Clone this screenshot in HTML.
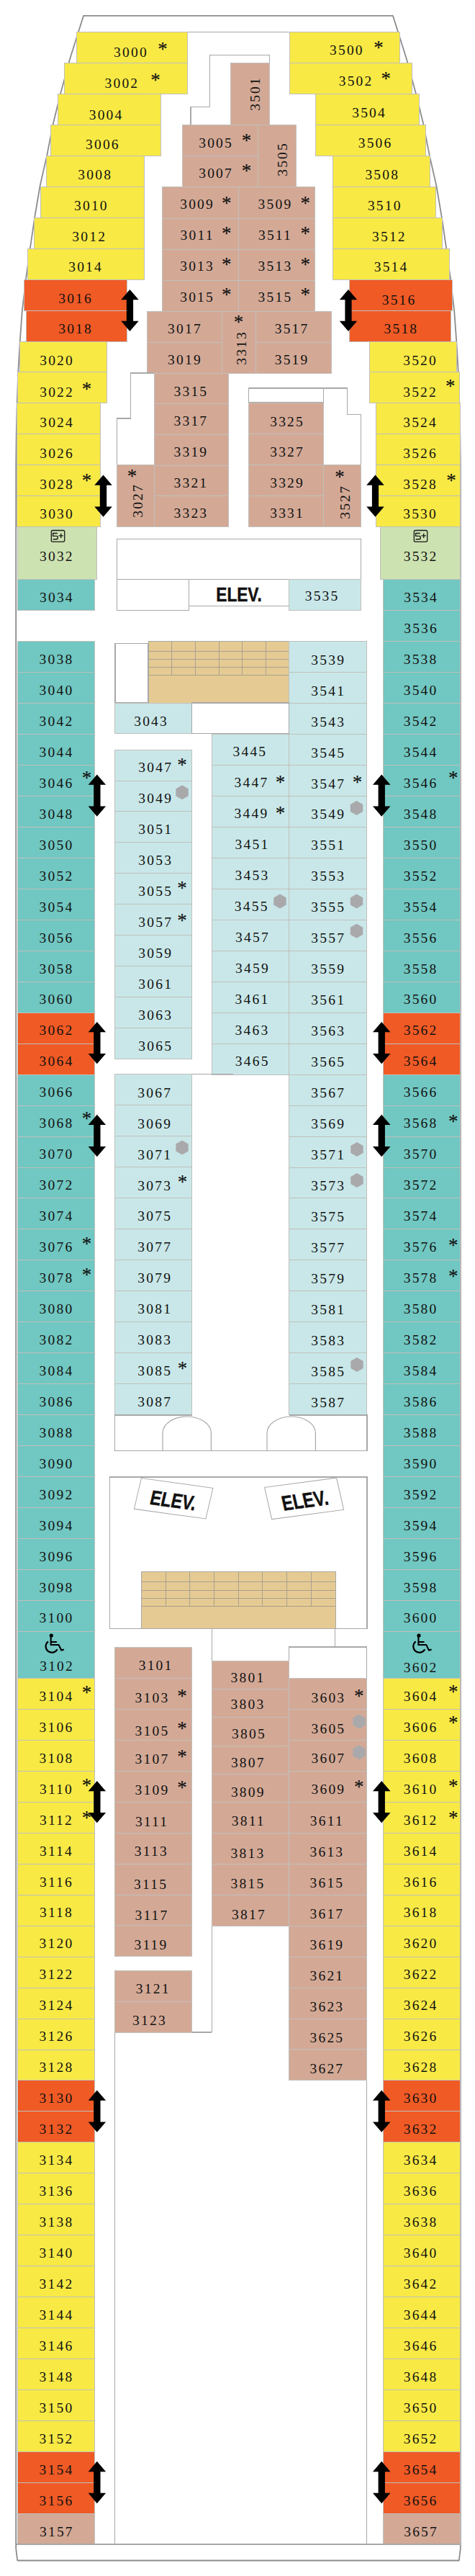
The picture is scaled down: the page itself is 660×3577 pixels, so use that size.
<!DOCTYPE html>
<html><head><meta charset="utf-8"><style>
html,body{margin:0;padding:0;background:#fff;width:660px;height:3577px;overflow:hidden}
#w{position:relative;width:660px;height:3577px}
svg{position:absolute;left:0;top:0}
.l{position:absolute;height:20px;line-height:20px;text-align:center;font-family:"Liberation Serif",serif;font-size:19.5px;letter-spacing:2.2px;text-indent:2.2px;white-space:nowrap;color:#111}
.s{position:absolute;width:40px;height:26px;line-height:26px;text-align:center;font-family:"Liberation Serif",serif;font-size:27px;color:#111;-webkit-text-stroke:0.15px #111}
.ev{position:absolute;height:30px;line-height:30px;text-align:center;font-family:"Liberation Sans",sans-serif;font-size:27px;font-weight:bold;color:#111;transform:scaleX(0.84);-webkit-text-stroke:0.5px #111}
.evb{position:absolute;line-height:49px;text-align:center;font-family:"Liberation Sans",sans-serif;font-size:28.5px;font-weight:bold;color:#111;background:#fff;border:1.2px solid #a8a8a8;box-sizing:border-box}
.evb span{display:inline-block;transform:scaleX(0.8);-webkit-text-stroke:0.5px #111}
</style></head><body><div id="w">
<svg width="660" height="3577" viewBox="0 0 660 3577">
<polygon points="116,21.9 97.7,80 84,130.2 73.6,172.8 65.1,216.4 55.6,258 48.1,302.4 41.8,345.4 35.9,388.3 30.8,431.9 27.7,474.8 25.2,517.8 23.7,560.7 22.7,603.5 22.2,646.4 22.2,3539 24.2,3555.5 637.8,3555.5 639.8,3539 639.8,646.4 639.3,603.5 638.3,560.7 636.8,517.8 634.3,474.8 631.2,431.9 626.1,388.3 620.2,345.4 613.9,302.4 606.4,258 596.9,216.4 588.4,172.8 578,130.2 564.3,80 546,21.9" fill="none" stroke="#8c8c8c" stroke-width="1.8" stroke-linejoin="round"/>
<rect shape-rendering="crispEdges" x="106.8" y="44.9" width="153.7" height="42.9" fill="#f8e945" stroke="rgb(192,192,188)" stroke-width="1"/>
<rect shape-rendering="crispEdges" x="89.4" y="87.8" width="171.1" height="42.9" fill="#f8e945" stroke="rgb(192,192,188)" stroke-width="1"/>
<rect shape-rendering="crispEdges" x="80.3" y="130.7" width="143.1" height="42.9" fill="#f8e945" stroke="rgb(192,192,188)" stroke-width="1"/>
<rect shape-rendering="crispEdges" x="70.3" y="173.6" width="153.1" height="42.9" fill="#f8e945" stroke="rgb(192,192,188)" stroke-width="1"/>
<rect shape-rendering="crispEdges" x="64.6" y="216.5" width="135.5" height="42.9" fill="#f8e945" stroke="rgb(192,192,188)" stroke-width="1"/>
<rect shape-rendering="crispEdges" x="56.3" y="259.4" width="143.8" height="42.9" fill="#f8e945" stroke="rgb(192,192,188)" stroke-width="1"/>
<rect shape-rendering="crispEdges" x="47.6" y="302.4" width="152.5" height="42.9" fill="#f8e945" stroke="rgb(192,192,188)" stroke-width="1"/>
<rect shape-rendering="crispEdges" x="38.4" y="345.3" width="161.7" height="42.9" fill="#f8e945" stroke="rgb(192,192,188)" stroke-width="1"/>
<rect shape-rendering="crispEdges" x="33.9" y="388.2" width="142.7" height="42.9" fill="#f05a25" stroke="rgb(192,192,188)" stroke-width="1"/>
<rect shape-rendering="crispEdges" x="36.0" y="431.1" width="140.6" height="42.9" fill="#f05a25" stroke="rgb(192,192,188)" stroke-width="1"/>
<rect shape-rendering="crispEdges" x="27.3" y="474.0" width="121.5" height="42.9" fill="#f8e945" stroke="rgb(192,192,188)" stroke-width="1"/>
<rect shape-rendering="crispEdges" x="24.2" y="516.9" width="124.6" height="42.9" fill="#f8e945" stroke="rgb(192,192,188)" stroke-width="1"/>
<rect shape-rendering="crispEdges" x="23.6" y="559.8" width="115.6" height="42.9" fill="#f8e945" stroke="rgb(192,192,188)" stroke-width="1"/>
<rect shape-rendering="crispEdges" x="23.6" y="602.7" width="115.6" height="42.9" fill="#f8e945" stroke="rgb(192,192,188)" stroke-width="1"/>
<rect shape-rendering="crispEdges" x="23.6" y="645.6" width="115.6" height="42.9" fill="#f8e945" stroke="rgb(192,192,188)" stroke-width="1"/>
<rect shape-rendering="crispEdges" x="23.6" y="688.5" width="115.6" height="42.9" fill="#f8e945" stroke="rgb(192,192,188)" stroke-width="1"/>
<rect shape-rendering="crispEdges" x="402.0" y="44.9" width="153.0" height="42.9" fill="#f8e945" stroke="rgb(192,192,188)" stroke-width="1"/>
<rect shape-rendering="crispEdges" x="402.0" y="87.8" width="170.8" height="42.9" fill="#f8e945" stroke="rgb(192,192,188)" stroke-width="1"/>
<rect shape-rendering="crispEdges" x="438.0" y="130.7" width="144.0" height="42.9" fill="#f8e945" stroke="rgb(192,192,188)" stroke-width="1"/>
<rect shape-rendering="crispEdges" x="438.0" y="173.6" width="153.0" height="42.9" fill="#f8e945" stroke="rgb(192,192,188)" stroke-width="1"/>
<rect shape-rendering="crispEdges" x="462.4" y="216.5" width="135.0" height="42.9" fill="#f8e945" stroke="rgb(192,192,188)" stroke-width="1"/>
<rect shape-rendering="crispEdges" x="462.4" y="259.4" width="143.0" height="42.9" fill="#f8e945" stroke="rgb(192,192,188)" stroke-width="1"/>
<rect shape-rendering="crispEdges" x="462.4" y="302.4" width="152.1" height="42.9" fill="#f8e945" stroke="rgb(192,192,188)" stroke-width="1"/>
<rect shape-rendering="crispEdges" x="462.4" y="345.3" width="162.2" height="42.9" fill="#f8e945" stroke="rgb(192,192,188)" stroke-width="1"/>
<rect shape-rendering="crispEdges" x="485.7" y="388.2" width="142.5" height="42.9" fill="#f05a25" stroke="rgb(192,192,188)" stroke-width="1"/>
<rect shape-rendering="crispEdges" x="485.7" y="431.1" width="140.3" height="42.9" fill="#f05a25" stroke="rgb(192,192,188)" stroke-width="1"/>
<rect shape-rendering="crispEdges" x="513.0" y="474.0" width="121.5" height="42.9" fill="#f8e945" stroke="rgb(192,192,188)" stroke-width="1"/>
<rect shape-rendering="crispEdges" x="513.0" y="516.9" width="125.0" height="42.9" fill="#f8e945" stroke="rgb(192,192,188)" stroke-width="1"/>
<rect shape-rendering="crispEdges" x="522.4" y="559.8" width="117.0" height="42.9" fill="#f8e945" stroke="rgb(192,192,188)" stroke-width="1"/>
<rect shape-rendering="crispEdges" x="522.4" y="602.7" width="117.0" height="42.9" fill="#f8e945" stroke="rgb(192,192,188)" stroke-width="1"/>
<rect shape-rendering="crispEdges" x="522.4" y="645.6" width="117.0" height="42.9" fill="#f8e945" stroke="rgb(192,192,188)" stroke-width="1"/>
<rect shape-rendering="crispEdges" x="522.4" y="688.5" width="117.0" height="42.9" fill="#f8e945" stroke="rgb(192,192,188)" stroke-width="1"/>
<polygon points="180.4,401.9 192.7,416.2 185.1,416.2 185.1,445.8 192.7,445.8 180.4,460.1 168.2,445.8 175.8,445.8 175.8,416.2 168.2,416.2" fill="#000"/>
<polygon points="143.5,659.5 155.8,673.8 148.2,673.8 148.2,703.5 155.8,703.5 143.5,717.8 131.2,703.5 138.8,703.5 138.8,673.8 131.2,673.8" fill="#000"/>
<polygon points="484.0,401.9 496.2,416.2 488.6,416.2 488.6,445.8 496.2,445.8 484.0,460.1 471.8,445.8 479.4,445.8 479.4,416.2 471.8,416.2" fill="#000"/>
<polygon points="521.5,659.5 533.8,673.8 526.1,673.8 526.1,703.5 533.8,703.5 521.5,717.8 509.2,703.5 516.9,703.5 516.9,673.8 509.2,673.8" fill="#000"/>
<rect shape-rendering="crispEdges" x="24.0" y="731.3" width="110.8" height="72.8" fill="#cde2b1" stroke="rgb(192,192,188)" stroke-width="1"/>
<rect shape-rendering="crispEdges" x="528.2" y="731.3" width="111.2" height="72.8" fill="#cde2b1" stroke="rgb(192,192,188)" stroke-width="1"/>
<rect x="71.3" y="736.5" width="18.4" height="15.8" rx="2" fill="none" stroke="#1a1a1a" stroke-width="1.3"/>
<path d="M79.8,740.5 H73.6 V744.4 H78.4 Q80.2,744.4 80.2,746.2 V747.0 Q80.2,748.8 78.4,748.8 H73.6" fill="none" stroke="#1a1a1a" stroke-width="1.4"/>
<path d="M81.5,743.9 H87.9 M84.7,740.8 V747.1" fill="none" stroke="#1a1a1a" stroke-width="1.4"/>
<rect x="575.3" y="736.5" width="18.4" height="15.8" rx="2" fill="none" stroke="#1a1a1a" stroke-width="1.3"/>
<path d="M583.8,740.5 H577.6 V744.4 H582.4 Q584.2,744.4 584.2,746.2 V747.0 Q584.2,748.8 582.4,748.8 H577.6" fill="none" stroke="#1a1a1a" stroke-width="1.4"/>
<path d="M585.5,743.9 H591.9 M588.7,740.8 V747.1" fill="none" stroke="#1a1a1a" stroke-width="1.4"/>
<rect shape-rendering="crispEdges" x="24.0" y="804.1" width="107.4" height="43.3" fill="#71c7c1" stroke="rgb(192,192,188)" stroke-width="1"/>
<rect shape-rendering="crispEdges" x="24.0" y="890.8" width="107.4" height="43.0" fill="#71c7c1" stroke="rgb(192,192,188)" stroke-width="1"/>
<rect shape-rendering="crispEdges" x="24.0" y="933.8" width="107.4" height="42.9" fill="#71c7c1" stroke="rgb(192,192,188)" stroke-width="1"/>
<rect shape-rendering="crispEdges" x="24.0" y="976.7" width="107.4" height="43.0" fill="#71c7c1" stroke="rgb(192,192,188)" stroke-width="1"/>
<rect shape-rendering="crispEdges" x="24.0" y="1019.6" width="107.4" height="42.9" fill="#71c7c1" stroke="rgb(192,192,188)" stroke-width="1"/>
<rect shape-rendering="crispEdges" x="24.0" y="1062.6" width="107.4" height="43.0" fill="#71c7c1" stroke="rgb(192,192,188)" stroke-width="1"/>
<rect shape-rendering="crispEdges" x="24.0" y="1105.5" width="107.4" height="43.0" fill="#71c7c1" stroke="rgb(192,192,188)" stroke-width="1"/>
<rect shape-rendering="crispEdges" x="24.0" y="1148.5" width="107.4" height="43.0" fill="#71c7c1" stroke="rgb(192,192,188)" stroke-width="1"/>
<rect shape-rendering="crispEdges" x="24.0" y="1191.5" width="107.4" height="43.0" fill="#71c7c1" stroke="rgb(192,192,188)" stroke-width="1"/>
<rect shape-rendering="crispEdges" x="24.0" y="1234.4" width="107.4" height="42.9" fill="#71c7c1" stroke="rgb(192,192,188)" stroke-width="1"/>
<rect shape-rendering="crispEdges" x="24.0" y="1277.3" width="107.4" height="43.0" fill="#71c7c1" stroke="rgb(192,192,188)" stroke-width="1"/>
<rect shape-rendering="crispEdges" x="24.0" y="1320.3" width="107.4" height="43.0" fill="#71c7c1" stroke="rgb(192,192,188)" stroke-width="1"/>
<rect shape-rendering="crispEdges" x="24.0" y="1363.2" width="107.4" height="43.0" fill="#71c7c1" stroke="rgb(192,192,188)" stroke-width="1"/>
<rect shape-rendering="crispEdges" x="24.0" y="1406.2" width="107.4" height="43.0" fill="#f05a25" stroke="rgb(192,192,188)" stroke-width="1"/>
<rect shape-rendering="crispEdges" x="24.0" y="1449.2" width="107.4" height="42.9" fill="#f05a25" stroke="rgb(192,192,188)" stroke-width="1"/>
<rect shape-rendering="crispEdges" x="24.0" y="1492.1" width="107.4" height="43.0" fill="#71c7c1" stroke="rgb(192,192,188)" stroke-width="1"/>
<rect shape-rendering="crispEdges" x="24.0" y="1535.0" width="107.4" height="43.0" fill="#71c7c1" stroke="rgb(192,192,188)" stroke-width="1"/>
<rect shape-rendering="crispEdges" x="24.0" y="1578.0" width="107.4" height="43.0" fill="#71c7c1" stroke="rgb(192,192,188)" stroke-width="1"/>
<rect shape-rendering="crispEdges" x="24.0" y="1621.0" width="107.4" height="43.0" fill="#71c7c1" stroke="rgb(192,192,188)" stroke-width="1"/>
<rect shape-rendering="crispEdges" x="24.0" y="1663.9" width="107.4" height="42.9" fill="#71c7c1" stroke="rgb(192,192,188)" stroke-width="1"/>
<rect shape-rendering="crispEdges" x="24.0" y="1706.8" width="107.4" height="43.0" fill="#71c7c1" stroke="rgb(192,192,188)" stroke-width="1"/>
<rect shape-rendering="crispEdges" x="24.0" y="1749.8" width="107.4" height="43.0" fill="#71c7c1" stroke="rgb(192,192,188)" stroke-width="1"/>
<rect shape-rendering="crispEdges" x="24.0" y="1792.8" width="107.4" height="43.0" fill="#71c7c1" stroke="rgb(192,192,188)" stroke-width="1"/>
<rect shape-rendering="crispEdges" x="24.0" y="1835.7" width="107.4" height="43.0" fill="#71c7c1" stroke="rgb(192,192,188)" stroke-width="1"/>
<rect shape-rendering="crispEdges" x="24.0" y="1878.7" width="107.4" height="43.0" fill="#71c7c1" stroke="rgb(192,192,188)" stroke-width="1"/>
<rect shape-rendering="crispEdges" x="24.0" y="1921.6" width="107.4" height="42.9" fill="#71c7c1" stroke="rgb(192,192,188)" stroke-width="1"/>
<rect shape-rendering="crispEdges" x="24.0" y="1964.5" width="107.4" height="43.0" fill="#71c7c1" stroke="rgb(192,192,188)" stroke-width="1"/>
<rect shape-rendering="crispEdges" x="24.0" y="2007.5" width="107.4" height="42.9" fill="#71c7c1" stroke="rgb(192,192,188)" stroke-width="1"/>
<rect shape-rendering="crispEdges" x="24.0" y="2050.4" width="107.4" height="43.0" fill="#71c7c1" stroke="rgb(192,192,188)" stroke-width="1"/>
<rect shape-rendering="crispEdges" x="24.0" y="2093.4" width="107.4" height="43.0" fill="#71c7c1" stroke="rgb(192,192,188)" stroke-width="1"/>
<rect shape-rendering="crispEdges" x="24.0" y="2136.4" width="107.4" height="42.9" fill="#71c7c1" stroke="rgb(192,192,188)" stroke-width="1"/>
<rect shape-rendering="crispEdges" x="24.0" y="2179.3" width="107.4" height="42.9" fill="#71c7c1" stroke="rgb(192,192,188)" stroke-width="1"/>
<rect shape-rendering="crispEdges" x="24.0" y="2222.2" width="107.4" height="42.9" fill="#71c7c1" stroke="rgb(192,192,188)" stroke-width="1"/>
<rect shape-rendering="crispEdges" x="24.0" y="2265.2" width="107.4" height="64.8" fill="#71c7c1" stroke="rgb(192,192,188)" stroke-width="1"/>
<circle cx="71.3" cy="2271.0" r="2.6" fill="#000"/>
<path d="M70.7,2271 V2284.0 H81.5 L85.3,2291.5 L88.9,2290.5 M70.7,2280.0 H78.9" fill="none" stroke="#000" stroke-width="2.1"/>
<path d="M67.0,2279.4 A8.5,8.5 0 1 0 79.6,2290.2" fill="none" stroke="#000" stroke-width="2.2"/>
<rect shape-rendering="crispEdges" x="532.0" y="804.1" width="107.6" height="43.3" fill="#71c7c1" stroke="rgb(192,192,188)" stroke-width="1"/>
<rect shape-rendering="crispEdges" x="532.0" y="847.4" width="107.6" height="42.6" fill="#71c7c1" stroke="rgb(192,192,188)" stroke-width="1"/>
<rect shape-rendering="crispEdges" x="532.0" y="890.8" width="107.6" height="43.0" fill="#71c7c1" stroke="rgb(192,192,188)" stroke-width="1"/>
<rect shape-rendering="crispEdges" x="532.0" y="933.8" width="107.6" height="42.9" fill="#71c7c1" stroke="rgb(192,192,188)" stroke-width="1"/>
<rect shape-rendering="crispEdges" x="532.0" y="976.7" width="107.6" height="43.0" fill="#71c7c1" stroke="rgb(192,192,188)" stroke-width="1"/>
<rect shape-rendering="crispEdges" x="532.0" y="1019.6" width="107.6" height="42.9" fill="#71c7c1" stroke="rgb(192,192,188)" stroke-width="1"/>
<rect shape-rendering="crispEdges" x="532.0" y="1062.6" width="107.6" height="43.0" fill="#71c7c1" stroke="rgb(192,192,188)" stroke-width="1"/>
<rect shape-rendering="crispEdges" x="532.0" y="1105.5" width="107.6" height="43.0" fill="#71c7c1" stroke="rgb(192,192,188)" stroke-width="1"/>
<rect shape-rendering="crispEdges" x="532.0" y="1148.5" width="107.6" height="43.0" fill="#71c7c1" stroke="rgb(192,192,188)" stroke-width="1"/>
<rect shape-rendering="crispEdges" x="532.0" y="1191.5" width="107.6" height="43.0" fill="#71c7c1" stroke="rgb(192,192,188)" stroke-width="1"/>
<rect shape-rendering="crispEdges" x="532.0" y="1234.4" width="107.6" height="42.9" fill="#71c7c1" stroke="rgb(192,192,188)" stroke-width="1"/>
<rect shape-rendering="crispEdges" x="532.0" y="1277.3" width="107.6" height="43.0" fill="#71c7c1" stroke="rgb(192,192,188)" stroke-width="1"/>
<rect shape-rendering="crispEdges" x="532.0" y="1320.3" width="107.6" height="43.0" fill="#71c7c1" stroke="rgb(192,192,188)" stroke-width="1"/>
<rect shape-rendering="crispEdges" x="532.0" y="1363.2" width="107.6" height="43.0" fill="#71c7c1" stroke="rgb(192,192,188)" stroke-width="1"/>
<rect shape-rendering="crispEdges" x="532.0" y="1406.2" width="107.6" height="43.0" fill="#f05a25" stroke="rgb(192,192,188)" stroke-width="1"/>
<rect shape-rendering="crispEdges" x="532.0" y="1449.2" width="107.6" height="42.9" fill="#f05a25" stroke="rgb(192,192,188)" stroke-width="1"/>
<rect shape-rendering="crispEdges" x="532.0" y="1492.1" width="107.6" height="43.0" fill="#71c7c1" stroke="rgb(192,192,188)" stroke-width="1"/>
<rect shape-rendering="crispEdges" x="532.0" y="1535.0" width="107.6" height="43.0" fill="#71c7c1" stroke="rgb(192,192,188)" stroke-width="1"/>
<rect shape-rendering="crispEdges" x="532.0" y="1578.0" width="107.6" height="43.0" fill="#71c7c1" stroke="rgb(192,192,188)" stroke-width="1"/>
<rect shape-rendering="crispEdges" x="532.0" y="1621.0" width="107.6" height="43.0" fill="#71c7c1" stroke="rgb(192,192,188)" stroke-width="1"/>
<rect shape-rendering="crispEdges" x="532.0" y="1663.9" width="107.6" height="42.9" fill="#71c7c1" stroke="rgb(192,192,188)" stroke-width="1"/>
<rect shape-rendering="crispEdges" x="532.0" y="1706.8" width="107.6" height="43.0" fill="#71c7c1" stroke="rgb(192,192,188)" stroke-width="1"/>
<rect shape-rendering="crispEdges" x="532.0" y="1749.8" width="107.6" height="43.0" fill="#71c7c1" stroke="rgb(192,192,188)" stroke-width="1"/>
<rect shape-rendering="crispEdges" x="532.0" y="1792.8" width="107.6" height="43.0" fill="#71c7c1" stroke="rgb(192,192,188)" stroke-width="1"/>
<rect shape-rendering="crispEdges" x="532.0" y="1835.7" width="107.6" height="43.0" fill="#71c7c1" stroke="rgb(192,192,188)" stroke-width="1"/>
<rect shape-rendering="crispEdges" x="532.0" y="1878.7" width="107.6" height="43.0" fill="#71c7c1" stroke="rgb(192,192,188)" stroke-width="1"/>
<rect shape-rendering="crispEdges" x="532.0" y="1921.6" width="107.6" height="42.9" fill="#71c7c1" stroke="rgb(192,192,188)" stroke-width="1"/>
<rect shape-rendering="crispEdges" x="532.0" y="1964.5" width="107.6" height="43.0" fill="#71c7c1" stroke="rgb(192,192,188)" stroke-width="1"/>
<rect shape-rendering="crispEdges" x="532.0" y="2007.5" width="107.6" height="42.9" fill="#71c7c1" stroke="rgb(192,192,188)" stroke-width="1"/>
<rect shape-rendering="crispEdges" x="532.0" y="2050.4" width="107.6" height="43.0" fill="#71c7c1" stroke="rgb(192,192,188)" stroke-width="1"/>
<rect shape-rendering="crispEdges" x="532.0" y="2093.4" width="107.6" height="43.0" fill="#71c7c1" stroke="rgb(192,192,188)" stroke-width="1"/>
<rect shape-rendering="crispEdges" x="532.0" y="2136.4" width="107.6" height="42.9" fill="#71c7c1" stroke="rgb(192,192,188)" stroke-width="1"/>
<rect shape-rendering="crispEdges" x="532.0" y="2179.3" width="107.6" height="42.9" fill="#71c7c1" stroke="rgb(192,192,188)" stroke-width="1"/>
<rect shape-rendering="crispEdges" x="532.0" y="2222.2" width="107.6" height="42.9" fill="#71c7c1" stroke="rgb(192,192,188)" stroke-width="1"/>
<rect shape-rendering="crispEdges" x="532.0" y="2265.2" width="107.6" height="64.8" fill="#71c7c1" stroke="rgb(192,192,188)" stroke-width="1"/>
<circle cx="582.0" cy="2271.0" r="2.6" fill="#000"/>
<path d="M581.4,2271 V2284.0 H592.2 L596.0,2291.5 L599.6,2290.5 M581.4,2280.0 H589.6" fill="none" stroke="#000" stroke-width="2.1"/>
<path d="M577.7,2279.4 A8.5,8.5 0 1 0 590.3,2290.2" fill="none" stroke="#000" stroke-width="2.2"/>
<rect shape-rendering="crispEdges" x="24.0" y="2330.6" width="107.4" height="42.9" fill="#f8e945" stroke="rgb(192,192,188)" stroke-width="1"/>
<rect shape-rendering="crispEdges" x="532.0" y="2330.6" width="107.6" height="42.9" fill="#f8e945" stroke="rgb(192,192,188)" stroke-width="1"/>
<rect shape-rendering="crispEdges" x="24.0" y="2373.5" width="107.4" height="43.0" fill="#f8e945" stroke="rgb(192,192,188)" stroke-width="1"/>
<rect shape-rendering="crispEdges" x="532.0" y="2373.5" width="107.6" height="43.0" fill="#f8e945" stroke="rgb(192,192,188)" stroke-width="1"/>
<rect shape-rendering="crispEdges" x="24.0" y="2416.5" width="107.4" height="42.9" fill="#f8e945" stroke="rgb(192,192,188)" stroke-width="1"/>
<rect shape-rendering="crispEdges" x="532.0" y="2416.5" width="107.6" height="42.9" fill="#f8e945" stroke="rgb(192,192,188)" stroke-width="1"/>
<rect shape-rendering="crispEdges" x="24.0" y="2459.4" width="107.4" height="43.0" fill="#f8e945" stroke="rgb(192,192,188)" stroke-width="1"/>
<rect shape-rendering="crispEdges" x="532.0" y="2459.4" width="107.6" height="43.0" fill="#f8e945" stroke="rgb(192,192,188)" stroke-width="1"/>
<rect shape-rendering="crispEdges" x="24.0" y="2502.4" width="107.4" height="42.9" fill="#f8e945" stroke="rgb(192,192,188)" stroke-width="1"/>
<rect shape-rendering="crispEdges" x="532.0" y="2502.4" width="107.6" height="42.9" fill="#f8e945" stroke="rgb(192,192,188)" stroke-width="1"/>
<rect shape-rendering="crispEdges" x="24.0" y="2545.3" width="107.4" height="43.0" fill="#f8e945" stroke="rgb(192,192,188)" stroke-width="1"/>
<rect shape-rendering="crispEdges" x="532.0" y="2545.3" width="107.6" height="43.0" fill="#f8e945" stroke="rgb(192,192,188)" stroke-width="1"/>
<rect shape-rendering="crispEdges" x="24.0" y="2588.3" width="107.4" height="42.9" fill="#f8e945" stroke="rgb(192,192,188)" stroke-width="1"/>
<rect shape-rendering="crispEdges" x="532.0" y="2588.3" width="107.6" height="42.9" fill="#f8e945" stroke="rgb(192,192,188)" stroke-width="1"/>
<rect shape-rendering="crispEdges" x="24.0" y="2631.2" width="107.4" height="42.9" fill="#f8e945" stroke="rgb(192,192,188)" stroke-width="1"/>
<rect shape-rendering="crispEdges" x="532.0" y="2631.2" width="107.6" height="42.9" fill="#f8e945" stroke="rgb(192,192,188)" stroke-width="1"/>
<rect shape-rendering="crispEdges" x="24.0" y="2674.2" width="107.4" height="43.0" fill="#f8e945" stroke="rgb(192,192,188)" stroke-width="1"/>
<rect shape-rendering="crispEdges" x="532.0" y="2674.2" width="107.6" height="43.0" fill="#f8e945" stroke="rgb(192,192,188)" stroke-width="1"/>
<rect shape-rendering="crispEdges" x="24.0" y="2717.2" width="107.4" height="42.9" fill="#f8e945" stroke="rgb(192,192,188)" stroke-width="1"/>
<rect shape-rendering="crispEdges" x="532.0" y="2717.2" width="107.6" height="42.9" fill="#f8e945" stroke="rgb(192,192,188)" stroke-width="1"/>
<rect shape-rendering="crispEdges" x="24.0" y="2760.1" width="107.4" height="43.0" fill="#f8e945" stroke="rgb(192,192,188)" stroke-width="1"/>
<rect shape-rendering="crispEdges" x="532.0" y="2760.1" width="107.6" height="43.0" fill="#f8e945" stroke="rgb(192,192,188)" stroke-width="1"/>
<rect shape-rendering="crispEdges" x="24.0" y="2803.1" width="107.4" height="42.9" fill="#f8e945" stroke="rgb(192,192,188)" stroke-width="1"/>
<rect shape-rendering="crispEdges" x="532.0" y="2803.1" width="107.6" height="42.9" fill="#f8e945" stroke="rgb(192,192,188)" stroke-width="1"/>
<rect shape-rendering="crispEdges" x="24.0" y="2846.0" width="107.4" height="42.9" fill="#f8e945" stroke="rgb(192,192,188)" stroke-width="1"/>
<rect shape-rendering="crispEdges" x="532.0" y="2846.0" width="107.6" height="42.9" fill="#f8e945" stroke="rgb(192,192,188)" stroke-width="1"/>
<rect shape-rendering="crispEdges" x="24.0" y="2888.9" width="107.4" height="43.0" fill="#f05a25" stroke="rgb(192,192,188)" stroke-width="1"/>
<rect shape-rendering="crispEdges" x="532.0" y="2888.9" width="107.6" height="43.0" fill="#f05a25" stroke="rgb(192,192,188)" stroke-width="1"/>
<rect shape-rendering="crispEdges" x="24.0" y="2931.9" width="107.4" height="42.9" fill="#f05a25" stroke="rgb(192,192,188)" stroke-width="1"/>
<rect shape-rendering="crispEdges" x="532.0" y="2931.9" width="107.6" height="42.9" fill="#f05a25" stroke="rgb(192,192,188)" stroke-width="1"/>
<rect shape-rendering="crispEdges" x="24.0" y="2974.8" width="107.4" height="43.0" fill="#f8e945" stroke="rgb(192,192,188)" stroke-width="1"/>
<rect shape-rendering="crispEdges" x="532.0" y="2974.8" width="107.6" height="43.0" fill="#f8e945" stroke="rgb(192,192,188)" stroke-width="1"/>
<rect shape-rendering="crispEdges" x="24.0" y="3017.8" width="107.4" height="42.9" fill="#f8e945" stroke="rgb(192,192,188)" stroke-width="1"/>
<rect shape-rendering="crispEdges" x="532.0" y="3017.8" width="107.6" height="42.9" fill="#f8e945" stroke="rgb(192,192,188)" stroke-width="1"/>
<rect shape-rendering="crispEdges" x="24.0" y="3060.8" width="107.4" height="42.9" fill="#f8e945" stroke="rgb(192,192,188)" stroke-width="1"/>
<rect shape-rendering="crispEdges" x="532.0" y="3060.8" width="107.6" height="42.9" fill="#f8e945" stroke="rgb(192,192,188)" stroke-width="1"/>
<rect shape-rendering="crispEdges" x="24.0" y="3103.7" width="107.4" height="43.0" fill="#f8e945" stroke="rgb(192,192,188)" stroke-width="1"/>
<rect shape-rendering="crispEdges" x="532.0" y="3103.7" width="107.6" height="43.0" fill="#f8e945" stroke="rgb(192,192,188)" stroke-width="1"/>
<rect shape-rendering="crispEdges" x="24.0" y="3146.7" width="107.4" height="42.9" fill="#f8e945" stroke="rgb(192,192,188)" stroke-width="1"/>
<rect shape-rendering="crispEdges" x="532.0" y="3146.7" width="107.6" height="42.9" fill="#f8e945" stroke="rgb(192,192,188)" stroke-width="1"/>
<rect shape-rendering="crispEdges" x="24.0" y="3189.6" width="107.4" height="43.0" fill="#f8e945" stroke="rgb(192,192,188)" stroke-width="1"/>
<rect shape-rendering="crispEdges" x="532.0" y="3189.6" width="107.6" height="43.0" fill="#f8e945" stroke="rgb(192,192,188)" stroke-width="1"/>
<rect shape-rendering="crispEdges" x="24.0" y="3232.6" width="107.4" height="42.9" fill="#f8e945" stroke="rgb(192,192,188)" stroke-width="1"/>
<rect shape-rendering="crispEdges" x="532.0" y="3232.6" width="107.6" height="42.9" fill="#f8e945" stroke="rgb(192,192,188)" stroke-width="1"/>
<rect shape-rendering="crispEdges" x="24.0" y="3275.5" width="107.4" height="42.9" fill="#f8e945" stroke="rgb(192,192,188)" stroke-width="1"/>
<rect shape-rendering="crispEdges" x="532.0" y="3275.5" width="107.6" height="42.9" fill="#f8e945" stroke="rgb(192,192,188)" stroke-width="1"/>
<rect shape-rendering="crispEdges" x="24.0" y="3318.4" width="107.4" height="43.0" fill="#f8e945" stroke="rgb(192,192,188)" stroke-width="1"/>
<rect shape-rendering="crispEdges" x="532.0" y="3318.4" width="107.6" height="43.0" fill="#f8e945" stroke="rgb(192,192,188)" stroke-width="1"/>
<rect shape-rendering="crispEdges" x="24.0" y="3361.4" width="107.4" height="42.9" fill="#f8e945" stroke="rgb(192,192,188)" stroke-width="1"/>
<rect shape-rendering="crispEdges" x="532.0" y="3361.4" width="107.6" height="42.9" fill="#f8e945" stroke="rgb(192,192,188)" stroke-width="1"/>
<rect shape-rendering="crispEdges" x="24.0" y="3404.3" width="107.4" height="43.0" fill="#f05a25" stroke="rgb(192,192,188)" stroke-width="1"/>
<rect shape-rendering="crispEdges" x="532.0" y="3404.3" width="107.6" height="43.0" fill="#f05a25" stroke="rgb(192,192,188)" stroke-width="1"/>
<rect shape-rendering="crispEdges" x="24.0" y="3447.3" width="107.4" height="42.9" fill="#f05a25" stroke="rgb(192,192,188)" stroke-width="1"/>
<rect shape-rendering="crispEdges" x="532.0" y="3447.3" width="107.6" height="42.9" fill="#f05a25" stroke="rgb(192,192,188)" stroke-width="1"/>
<rect shape-rendering="crispEdges" x="24.0" y="3490.2" width="107.4" height="42.8" fill="#d3a996" stroke="rgb(192,192,188)" stroke-width="1"/>
<rect shape-rendering="crispEdges" x="532.0" y="3490.2" width="107.6" height="42.8" fill="#d3a996" stroke="rgb(192,192,188)" stroke-width="1"/>
<polygon points="134.8,1075.4 147.1,1089.7 139.5,1089.7 139.5,1119.4 147.1,1119.4 134.8,1133.7 122.6,1119.4 130.2,1119.4 130.2,1089.7 122.6,1089.7" fill="#000"/>
<polygon points="530.2,1075.4 542.5,1089.7 534.9,1089.7 534.9,1119.4 542.5,1119.4 530.2,1133.7 518.0,1119.4 525.6,1119.4 525.6,1089.7 518.0,1089.7" fill="#000"/>
<polygon points="134.8,1419.0 147.1,1433.3 139.5,1433.3 139.5,1463.0 147.1,1463.0 134.8,1477.3 122.6,1463.0 130.2,1463.0 130.2,1433.3 122.6,1433.3" fill="#000"/>
<polygon points="530.2,1419.0 542.5,1433.3 534.9,1433.3 534.9,1463.0 542.5,1463.0 530.2,1477.3 518.0,1463.0 525.6,1463.0 525.6,1433.3 518.0,1433.3" fill="#000"/>
<polygon points="134.8,1547.8 147.1,1562.1 139.5,1562.1 139.5,1591.9 147.1,1591.9 134.8,1606.2 122.6,1591.9 130.2,1591.9 130.2,1562.1 122.6,1562.1" fill="#000"/>
<polygon points="530.2,1547.8 542.5,1562.1 534.9,1562.1 534.9,1591.9 542.5,1591.9 530.2,1606.2 518.0,1591.9 525.6,1591.9 525.6,1562.1 518.0,1562.1" fill="#000"/>
<polygon points="134.8,2472.9 147.1,2487.2 139.5,2487.2 139.5,2516.9 147.1,2516.9 134.8,2531.2 122.6,2516.9 130.2,2516.9 130.2,2487.2 122.6,2487.2" fill="#000"/>
<polygon points="530.2,2472.9 542.5,2487.2 534.9,2487.2 534.9,2516.9 542.5,2516.9 530.2,2531.2 518.0,2516.9 525.6,2516.9 525.6,2487.2 518.0,2487.2" fill="#000"/>
<polygon points="134.8,2902.4 147.1,2916.8 139.5,2916.8 139.5,2946.4 147.1,2946.4 134.8,2960.8 122.6,2946.4 130.2,2946.4 130.2,2916.8 122.6,2916.8" fill="#000"/>
<polygon points="530.2,2902.4 542.5,2916.8 534.9,2916.8 534.9,2946.4 542.5,2946.4 530.2,2960.8 518.0,2946.4 525.6,2946.4 525.6,2916.8 518.0,2916.8" fill="#000"/>
<polygon points="134.8,3417.8 147.1,3432.2 139.5,3432.2 139.5,3461.8 147.1,3461.8 134.8,3476.2 122.6,3461.8 130.2,3461.8 130.2,3432.2 122.6,3432.2" fill="#000"/>
<polygon points="530.2,3417.8 542.5,3432.2 534.9,3432.2 534.9,3461.8 542.5,3461.8 530.2,3476.2 518.0,3461.8 525.6,3461.8 525.6,3432.2 518.0,3432.2" fill="#000"/>
<line shape-rendering="crispEdges" x1="260.5" y1="44.6" x2="402.0" y2="44.6" stroke="#a8a8a8" stroke-width="1.2"/>
<polyline shape-rendering="crispEdges" points="265.0,173.2 265.0,148.2 291.2,148.2 291.2,76.2 374.5,76.2 374.5,92.6" fill="none" stroke="#a8a8a8" stroke-width="1.2"/>
<rect shape-rendering="crispEdges" x="320.1" y="87.9" width="53.9" height="85.9" fill="#d3a996" stroke="rgb(192,192,188)" stroke-width="1"/>
<rect shape-rendering="crispEdges" x="253.3" y="173.8" width="105.1" height="42.7" fill="#d3a996" stroke="rgb(192,192,188)" stroke-width="1"/>
<rect shape-rendering="crispEdges" x="253.3" y="216.5" width="105.1" height="43.0" fill="#d3a996" stroke="rgb(192,192,188)" stroke-width="1"/>
<rect shape-rendering="crispEdges" x="358.4" y="173.8" width="52.6" height="85.7" fill="#d3a996" stroke="rgb(192,192,188)" stroke-width="1"/>
<rect shape-rendering="crispEdges" x="225.8" y="259.5" width="105.7" height="43.5" fill="#d3a996" stroke="rgb(192,192,188)" stroke-width="1"/>
<rect shape-rendering="crispEdges" x="331.5" y="259.5" width="106.2" height="43.5" fill="#d3a996" stroke="rgb(192,192,188)" stroke-width="1"/>
<rect shape-rendering="crispEdges" x="225.8" y="303.0" width="105.7" height="43.0" fill="#d3a996" stroke="rgb(192,192,188)" stroke-width="1"/>
<rect shape-rendering="crispEdges" x="331.5" y="303.0" width="106.2" height="43.0" fill="#d3a996" stroke="rgb(192,192,188)" stroke-width="1"/>
<rect shape-rendering="crispEdges" x="225.8" y="346.0" width="105.7" height="43.0" fill="#d3a996" stroke="rgb(192,192,188)" stroke-width="1"/>
<rect shape-rendering="crispEdges" x="331.5" y="346.0" width="106.2" height="43.0" fill="#d3a996" stroke="rgb(192,192,188)" stroke-width="1"/>
<rect shape-rendering="crispEdges" x="225.8" y="389.0" width="105.7" height="43.3" fill="#d3a996" stroke="rgb(192,192,188)" stroke-width="1"/>
<rect shape-rendering="crispEdges" x="331.5" y="389.0" width="106.2" height="43.3" fill="#d3a996" stroke="rgb(192,192,188)" stroke-width="1"/>
<rect shape-rendering="crispEdges" x="204.0" y="432.3" width="104.0" height="42.7" fill="#d3a996" stroke="rgb(192,192,188)" stroke-width="1"/>
<rect shape-rendering="crispEdges" x="204.0" y="475.0" width="104.0" height="43.1" fill="#d3a996" stroke="rgb(192,192,188)" stroke-width="1"/>
<rect shape-rendering="crispEdges" x="308.0" y="432.3" width="47.7" height="85.8" fill="#d3a996" stroke="rgb(192,192,188)" stroke-width="1"/>
<rect shape-rendering="crispEdges" x="355.7" y="432.3" width="104.3" height="42.7" fill="#d3a996" stroke="rgb(192,192,188)" stroke-width="1"/>
<rect shape-rendering="crispEdges" x="355.7" y="475.0" width="104.3" height="43.1" fill="#d3a996" stroke="rgb(192,192,188)" stroke-width="1"/>
<polyline shape-rendering="crispEdges" points="214.0,518.0 181.3,518.0 181.3,581.0 162.6,581.0 162.6,645.5" fill="none" stroke="#a8a8a8" stroke-width="1.2"/>
<rect shape-rendering="crispEdges" x="214.0" y="518.1" width="103.7" height="42.7" fill="#d3a996" stroke="rgb(192,192,188)" stroke-width="1"/>
<rect shape-rendering="crispEdges" x="214.0" y="560.8" width="103.7" height="42.8" fill="#d3a996" stroke="rgb(192,192,188)" stroke-width="1"/>
<rect shape-rendering="crispEdges" x="214.0" y="603.6" width="103.7" height="42.8" fill="#d3a996" stroke="rgb(192,192,188)" stroke-width="1"/>
<rect shape-rendering="crispEdges" x="214.0" y="646.4" width="103.7" height="41.6" fill="#d3a996" stroke="rgb(192,192,188)" stroke-width="1"/>
<rect shape-rendering="crispEdges" x="214.0" y="688.0" width="103.7" height="43.3" fill="#d3a996" stroke="rgb(192,192,188)" stroke-width="1"/>
<rect shape-rendering="crispEdges" x="162.4" y="645.5" width="51.6" height="85.8" fill="#d3a996" stroke="rgb(192,192,188)" stroke-width="1"/>
<rect shape-rendering="crispEdges" x="345.5" y="539.0" width="104.0" height="20.0" fill="#fff" stroke="#a8a8a8" stroke-width="1.2"/>
<rect shape-rendering="crispEdges" x="345.5" y="559.0" width="104.0" height="43.2" fill="#d3a996" stroke="rgb(192,192,188)" stroke-width="1"/>
<rect shape-rendering="crispEdges" x="345.5" y="602.2" width="104.0" height="43.1" fill="#d3a996" stroke="rgb(192,192,188)" stroke-width="1"/>
<rect shape-rendering="crispEdges" x="345.5" y="645.3" width="104.0" height="43.1" fill="#d3a996" stroke="rgb(192,192,188)" stroke-width="1"/>
<rect shape-rendering="crispEdges" x="345.5" y="688.4" width="104.0" height="42.9" fill="#d3a996" stroke="rgb(192,192,188)" stroke-width="1"/>
<polyline shape-rendering="crispEdges" points="449.5,539.0 482.6,539.0 482.6,575.4 501.2,575.4 501.2,645.5" fill="none" stroke="#a8a8a8" stroke-width="1.2"/>
<rect shape-rendering="crispEdges" x="449.6" y="645.5" width="51.6" height="85.8" fill="#d3a996" stroke="rgb(192,192,188)" stroke-width="1"/>
<rect shape-rendering="crispEdges" x="162.6" y="748.6" width="339.0" height="55.6" fill="#fff" stroke="#a8a8a8" stroke-width="1.2"/>
<rect shape-rendering="crispEdges" x="162.6" y="804.2" width="99.9" height="43.0" fill="#fff" stroke="#a8a8a8" stroke-width="1.2"/>
<rect shape-rendering="crispEdges" x="262.5" y="804.2" width="139.0" height="37.2" fill="#fff" stroke="#a8a8a8" stroke-width="1.2"/>
<rect shape-rendering="crispEdges" x="401.8" y="804.2" width="99.8" height="43.0" fill="#c9e7e8" stroke="rgb(192,192,188)" stroke-width="1"/>
<rect shape-rendering="crispEdges" x="160.0" y="893.4" width="46.0" height="82.6" fill="#fff" stroke="#a8a8a8" stroke-width="1.2"/>
<rect shape-rendering="crispEdges" x="206.0" y="890.5" width="196.0" height="85.5" fill="#e5cb93" stroke="#a8a8a8" stroke-width="1"/>
<line shape-rendering="crispEdges" x1="206.0" y1="904.7" x2="402.0" y2="904.7" stroke="#a8a090" stroke-width="1"/>
<line shape-rendering="crispEdges" x1="206.0" y1="915.8" x2="402.0" y2="915.8" stroke="#a8a090" stroke-width="1"/>
<line shape-rendering="crispEdges" x1="206.0" y1="926.8" x2="402.0" y2="926.8" stroke="#a8a090" stroke-width="1"/>
<line shape-rendering="crispEdges" x1="206.0" y1="937.7" x2="402.0" y2="937.7" stroke="#a8a090" stroke-width="1"/>
<line shape-rendering="crispEdges" x1="238.7" y1="890.5" x2="238.7" y2="937.7" stroke="#a8a090" stroke-width="1"/>
<line shape-rendering="crispEdges" x1="271.3" y1="890.5" x2="271.3" y2="937.7" stroke="#a8a090" stroke-width="1"/>
<line shape-rendering="crispEdges" x1="304.0" y1="890.5" x2="304.0" y2="937.7" stroke="#a8a090" stroke-width="1"/>
<line shape-rendering="crispEdges" x1="336.7" y1="890.5" x2="336.7" y2="937.7" stroke="#a8a090" stroke-width="1"/>
<line shape-rendering="crispEdges" x1="369.3" y1="890.5" x2="369.3" y2="937.7" stroke="#a8a090" stroke-width="1"/>
<rect shape-rendering="crispEdges" x="401.8" y="890.8" width="107.4" height="43.0" fill="#c9e7e8" stroke="rgb(192,192,188)" stroke-width="1"/>
<rect shape-rendering="crispEdges" x="401.8" y="933.8" width="107.4" height="42.9" fill="#c9e7e8" stroke="rgb(192,192,188)" stroke-width="1"/>
<rect shape-rendering="crispEdges" x="401.8" y="976.7" width="107.4" height="43.0" fill="#c9e7e8" stroke="rgb(192,192,188)" stroke-width="1"/>
<rect shape-rendering="crispEdges" x="401.8" y="1019.6" width="107.4" height="42.9" fill="#c9e7e8" stroke="rgb(192,192,188)" stroke-width="1"/>
<rect shape-rendering="crispEdges" x="401.8" y="1062.6" width="107.4" height="43.0" fill="#c9e7e8" stroke="rgb(192,192,188)" stroke-width="1"/>
<rect shape-rendering="crispEdges" x="401.8" y="1105.5" width="107.4" height="43.0" fill="#c9e7e8" stroke="rgb(192,192,188)" stroke-width="1"/>
<rect shape-rendering="crispEdges" x="401.8" y="1148.5" width="107.4" height="43.0" fill="#c9e7e8" stroke="rgb(192,192,188)" stroke-width="1"/>
<rect shape-rendering="crispEdges" x="401.8" y="1191.5" width="107.4" height="43.0" fill="#c9e7e8" stroke="rgb(192,192,188)" stroke-width="1"/>
<rect shape-rendering="crispEdges" x="401.8" y="1234.4" width="107.4" height="42.9" fill="#c9e7e8" stroke="rgb(192,192,188)" stroke-width="1"/>
<rect shape-rendering="crispEdges" x="401.8" y="1277.3" width="107.4" height="43.0" fill="#c9e7e8" stroke="rgb(192,192,188)" stroke-width="1"/>
<rect shape-rendering="crispEdges" x="401.8" y="1320.3" width="107.4" height="43.0" fill="#c9e7e8" stroke="rgb(192,192,188)" stroke-width="1"/>
<rect shape-rendering="crispEdges" x="401.8" y="1363.2" width="107.4" height="43.0" fill="#c9e7e8" stroke="rgb(192,192,188)" stroke-width="1"/>
<rect shape-rendering="crispEdges" x="401.8" y="1406.2" width="107.4" height="43.0" fill="#c9e7e8" stroke="rgb(192,192,188)" stroke-width="1"/>
<rect shape-rendering="crispEdges" x="401.8" y="1449.2" width="107.4" height="42.9" fill="#c9e7e8" stroke="rgb(192,192,188)" stroke-width="1"/>
<rect shape-rendering="crispEdges" x="401.8" y="1492.1" width="107.4" height="43.0" fill="#c9e7e8" stroke="rgb(192,192,188)" stroke-width="1"/>
<rect shape-rendering="crispEdges" x="401.8" y="1535.0" width="107.4" height="43.0" fill="#c9e7e8" stroke="rgb(192,192,188)" stroke-width="1"/>
<rect shape-rendering="crispEdges" x="401.8" y="1578.0" width="107.4" height="43.0" fill="#c9e7e8" stroke="rgb(192,192,188)" stroke-width="1"/>
<rect shape-rendering="crispEdges" x="401.8" y="1621.0" width="107.4" height="43.0" fill="#c9e7e8" stroke="rgb(192,192,188)" stroke-width="1"/>
<rect shape-rendering="crispEdges" x="401.8" y="1663.9" width="107.4" height="42.9" fill="#c9e7e8" stroke="rgb(192,192,188)" stroke-width="1"/>
<rect shape-rendering="crispEdges" x="401.8" y="1706.8" width="107.4" height="43.0" fill="#c9e7e8" stroke="rgb(192,192,188)" stroke-width="1"/>
<rect shape-rendering="crispEdges" x="401.8" y="1749.8" width="107.4" height="43.0" fill="#c9e7e8" stroke="rgb(192,192,188)" stroke-width="1"/>
<rect shape-rendering="crispEdges" x="401.8" y="1792.8" width="107.4" height="43.0" fill="#c9e7e8" stroke="rgb(192,192,188)" stroke-width="1"/>
<rect shape-rendering="crispEdges" x="401.8" y="1835.7" width="107.4" height="43.0" fill="#c9e7e8" stroke="rgb(192,192,188)" stroke-width="1"/>
<rect shape-rendering="crispEdges" x="401.8" y="1878.7" width="107.4" height="43.0" fill="#c9e7e8" stroke="rgb(192,192,188)" stroke-width="1"/>
<rect shape-rendering="crispEdges" x="401.8" y="1921.6" width="107.4" height="42.9" fill="#c9e7e8" stroke="rgb(192,192,188)" stroke-width="1"/>
<rect shape-rendering="crispEdges" x="159.7" y="976.0" width="106.8" height="42.6" fill="#c9e7e8" stroke="rgb(192,192,188)" stroke-width="1"/>
<rect shape-rendering="crispEdges" x="266.5" y="976.0" width="135.3" height="42.6" fill="#fff" stroke="#a8a8a8" stroke-width="1.2"/>
<rect shape-rendering="crispEdges" x="294.5" y="1019.6" width="107.3" height="42.9" fill="#c9e7e8" stroke="rgb(192,192,188)" stroke-width="1"/>
<rect shape-rendering="crispEdges" x="294.5" y="1062.6" width="107.3" height="43.0" fill="#c9e7e8" stroke="rgb(192,192,188)" stroke-width="1"/>
<rect shape-rendering="crispEdges" x="294.5" y="1105.5" width="107.3" height="43.0" fill="#c9e7e8" stroke="rgb(192,192,188)" stroke-width="1"/>
<rect shape-rendering="crispEdges" x="294.5" y="1148.5" width="107.3" height="43.0" fill="#c9e7e8" stroke="rgb(192,192,188)" stroke-width="1"/>
<rect shape-rendering="crispEdges" x="294.5" y="1191.5" width="107.3" height="43.0" fill="#c9e7e8" stroke="rgb(192,192,188)" stroke-width="1"/>
<rect shape-rendering="crispEdges" x="294.5" y="1234.4" width="107.3" height="42.9" fill="#c9e7e8" stroke="rgb(192,192,188)" stroke-width="1"/>
<rect shape-rendering="crispEdges" x="294.5" y="1277.3" width="107.3" height="43.0" fill="#c9e7e8" stroke="rgb(192,192,188)" stroke-width="1"/>
<rect shape-rendering="crispEdges" x="294.5" y="1320.3" width="107.3" height="43.0" fill="#c9e7e8" stroke="rgb(192,192,188)" stroke-width="1"/>
<rect shape-rendering="crispEdges" x="294.5" y="1363.2" width="107.3" height="43.0" fill="#c9e7e8" stroke="rgb(192,192,188)" stroke-width="1"/>
<rect shape-rendering="crispEdges" x="294.5" y="1406.2" width="107.3" height="43.0" fill="#c9e7e8" stroke="rgb(192,192,188)" stroke-width="1"/>
<rect shape-rendering="crispEdges" x="294.5" y="1449.2" width="107.3" height="42.9" fill="#c9e7e8" stroke="rgb(192,192,188)" stroke-width="1"/>
<rect shape-rendering="crispEdges" x="159.7" y="1041.0" width="106.8" height="43.0" fill="#c9e7e8" stroke="rgb(192,192,188)" stroke-width="1"/>
<rect shape-rendering="crispEdges" x="159.7" y="1084.0" width="106.8" height="43.0" fill="#c9e7e8" stroke="rgb(192,192,188)" stroke-width="1"/>
<rect shape-rendering="crispEdges" x="159.7" y="1126.9" width="106.8" height="43.0" fill="#c9e7e8" stroke="rgb(192,192,188)" stroke-width="1"/>
<rect shape-rendering="crispEdges" x="159.7" y="1169.9" width="106.8" height="43.0" fill="#c9e7e8" stroke="rgb(192,192,188)" stroke-width="1"/>
<rect shape-rendering="crispEdges" x="159.7" y="1212.8" width="106.8" height="43.0" fill="#c9e7e8" stroke="rgb(192,192,188)" stroke-width="1"/>
<rect shape-rendering="crispEdges" x="159.7" y="1255.8" width="106.8" height="43.0" fill="#c9e7e8" stroke="rgb(192,192,188)" stroke-width="1"/>
<rect shape-rendering="crispEdges" x="159.7" y="1298.8" width="106.8" height="43.0" fill="#c9e7e8" stroke="rgb(192,192,188)" stroke-width="1"/>
<rect shape-rendering="crispEdges" x="159.7" y="1341.7" width="106.8" height="43.0" fill="#c9e7e8" stroke="rgb(192,192,188)" stroke-width="1"/>
<rect shape-rendering="crispEdges" x="159.7" y="1384.7" width="106.8" height="43.0" fill="#c9e7e8" stroke="rgb(192,192,188)" stroke-width="1"/>
<rect shape-rendering="crispEdges" x="159.7" y="1427.6" width="106.8" height="43.0" fill="#c9e7e8" stroke="rgb(192,192,188)" stroke-width="1"/>
<rect shape-rendering="crispEdges" x="159.7" y="1491.6" width="106.8" height="43.0" fill="#c9e7e8" stroke="rgb(192,192,188)" stroke-width="1"/>
<rect shape-rendering="crispEdges" x="159.7" y="1534.6" width="106.8" height="43.0" fill="#c9e7e8" stroke="rgb(192,192,188)" stroke-width="1"/>
<rect shape-rendering="crispEdges" x="159.7" y="1577.5" width="106.8" height="43.0" fill="#c9e7e8" stroke="rgb(192,192,188)" stroke-width="1"/>
<rect shape-rendering="crispEdges" x="159.7" y="1620.5" width="106.8" height="43.0" fill="#c9e7e8" stroke="rgb(192,192,188)" stroke-width="1"/>
<rect shape-rendering="crispEdges" x="159.7" y="1663.4" width="106.8" height="43.0" fill="#c9e7e8" stroke="rgb(192,192,188)" stroke-width="1"/>
<rect shape-rendering="crispEdges" x="159.7" y="1706.4" width="106.8" height="43.0" fill="#c9e7e8" stroke="rgb(192,192,188)" stroke-width="1"/>
<rect shape-rendering="crispEdges" x="159.7" y="1749.4" width="106.8" height="43.0" fill="#c9e7e8" stroke="rgb(192,192,188)" stroke-width="1"/>
<rect shape-rendering="crispEdges" x="159.7" y="1792.3" width="106.8" height="43.0" fill="#c9e7e8" stroke="rgb(192,192,188)" stroke-width="1"/>
<rect shape-rendering="crispEdges" x="159.7" y="1835.3" width="106.8" height="43.0" fill="#c9e7e8" stroke="rgb(192,192,188)" stroke-width="1"/>
<rect shape-rendering="crispEdges" x="159.7" y="1878.2" width="106.8" height="43.0" fill="#c9e7e8" stroke="rgb(192,192,188)" stroke-width="1"/>
<rect shape-rendering="crispEdges" x="159.7" y="1921.2" width="106.8" height="43.0" fill="#c9e7e8" stroke="rgb(192,192,188)" stroke-width="1"/>
<line shape-rendering="crispEdges" x1="266.5" y1="1491.6" x2="324.0" y2="1491.6" stroke="#a8a8a8" stroke-width="1.2"/>
<polygon points="253.0,1110.2 244.3,1105.2 244.3,1095.2 253.0,1090.2 261.7,1095.2 261.7,1105.2" fill="#a9a9ac"/>
<polygon points="253.0,1603.5 244.3,1598.5 244.3,1588.5 253.0,1583.5 261.7,1588.5 261.7,1598.5" fill="#a9a9ac"/>
<polygon points="389.0,1261.5 380.3,1256.5 380.3,1246.5 389.0,1241.5 397.7,1246.5 397.7,1256.5" fill="#a9a9ac"/>
<polygon points="495.5,1132.0 486.8,1127.0 486.8,1117.0 495.5,1112.0 504.2,1117.0 504.2,1127.0" fill="#a9a9ac"/>
<polygon points="495.5,1261.5 486.8,1256.5 486.8,1246.5 495.5,1241.5 504.2,1246.5 504.2,1256.5" fill="#a9a9ac"/>
<polygon points="495.5,1302.7 486.8,1297.7 486.8,1287.7 495.5,1282.7 504.2,1287.7 504.2,1297.7" fill="#a9a9ac"/>
<polygon points="496.0,1606.0 487.3,1601.0 487.3,1591.0 496.0,1586.0 504.7,1591.0 504.7,1601.0" fill="#a9a9ac"/>
<polygon points="496.0,1649.0 487.3,1644.0 487.3,1634.0 496.0,1629.0 504.7,1634.0 504.7,1644.0" fill="#a9a9ac"/>
<polygon points="496.0,1905.0 487.3,1900.0 487.3,1890.0 496.0,1885.0 504.7,1890.0 504.7,1900.0" fill="#a9a9ac"/>
<polyline shape-rendering="crispEdges" points="266.5,1965.0 159.6,1965.0 159.6,2014.4 510.0,2014.4 510.0,1965.0 402.0,1965.0" fill="none" stroke="#a8a8a8" stroke-width="1.2"/>
<path d="M226,2014.4 V1990 A33.7,23 0 0 1 259.7,1967 A33.7,23 0 0 1 293.4,1990 V2014.4" fill="none" stroke="#a8a8a8" stroke-width="1.2"/>
<path d="M371,2014.4 V1990 A33.7,23 0 0 1 404.7,1967 A33.7,23 0 0 1 438.4,1990 V2014.4" fill="none" stroke="#a8a8a8" stroke-width="1.2"/>
<rect shape-rendering="crispEdges" x="152.4" y="2051.0" width="357.6" height="210.6" fill="#fff" stroke="#a8a8a8" stroke-width="1.2"/>
<rect shape-rendering="crispEdges" x="196.5" y="2182.3" width="269.5" height="79.3" fill="#e5cb93" stroke="#a8a8a8" stroke-width="1"/>
<line shape-rendering="crispEdges" x1="196.5" y1="2196.8" x2="466.0" y2="2196.8" stroke="#a8a090" stroke-width="1"/>
<line shape-rendering="crispEdges" x1="196.5" y1="2208.0" x2="466.0" y2="2208.0" stroke="#a8a090" stroke-width="1"/>
<line shape-rendering="crispEdges" x1="196.5" y1="2219.0" x2="466.0" y2="2219.0" stroke="#a8a090" stroke-width="1"/>
<line shape-rendering="crispEdges" x1="196.5" y1="2230.5" x2="466.0" y2="2230.5" stroke="#a8a090" stroke-width="1"/>
<line shape-rendering="crispEdges" x1="230.2" y1="2182.3" x2="230.2" y2="2230.5" stroke="#a8a090" stroke-width="1"/>
<line shape-rendering="crispEdges" x1="263.9" y1="2182.3" x2="263.9" y2="2230.5" stroke="#a8a090" stroke-width="1"/>
<line shape-rendering="crispEdges" x1="297.6" y1="2182.3" x2="297.6" y2="2230.5" stroke="#a8a090" stroke-width="1"/>
<line shape-rendering="crispEdges" x1="331.3" y1="2182.3" x2="331.3" y2="2230.5" stroke="#a8a090" stroke-width="1"/>
<line shape-rendering="crispEdges" x1="364.9" y1="2182.3" x2="364.9" y2="2230.5" stroke="#a8a090" stroke-width="1"/>
<line shape-rendering="crispEdges" x1="398.6" y1="2182.3" x2="398.6" y2="2230.5" stroke="#a8a090" stroke-width="1"/>
<line shape-rendering="crispEdges" x1="432.3" y1="2182.3" x2="432.3" y2="2230.5" stroke="#a8a090" stroke-width="1"/>
<line shape-rendering="crispEdges" x1="294.2" y1="2261.6" x2="294.2" y2="2822.0" stroke="#a8a8a8" stroke-width="1.2"/>
<line shape-rendering="crispEdges" x1="465.3" y1="2261.6" x2="465.3" y2="2287.0" stroke="#a8a8a8" stroke-width="1.2"/>
<rect shape-rendering="crispEdges" x="401.8" y="2287.0" width="107.6" height="43.4" fill="#fff" stroke="#a8a8a8" stroke-width="1.2"/>
<line shape-rendering="crispEdges" x1="159.3" y1="2822.0" x2="294.2" y2="2822.0" stroke="#a8a8a8" stroke-width="1.2"/>
<line shape-rendering="crispEdges" x1="159.3" y1="2822.0" x2="159.3" y2="3533.0" stroke="#a8a8a8" stroke-width="1.2"/>
<line shape-rendering="crispEdges" x1="509.2" y1="2889.0" x2="509.2" y2="3533.0" stroke="#a8a8a8" stroke-width="1.2"/>
<line shape-rendering="crispEdges" x1="23.0" y1="3533.0" x2="639.0" y2="3533.0" stroke="#a8a8a8" stroke-width="1.2"/>
<rect shape-rendering="crispEdges" x="159.0" y="2287.3" width="107.7" height="43.0" fill="#d3a996" stroke="rgb(192,192,188)" stroke-width="1"/>
<rect shape-rendering="crispEdges" x="159.0" y="2330.3" width="107.7" height="43.0" fill="#d3a996" stroke="rgb(192,192,188)" stroke-width="1"/>
<rect shape-rendering="crispEdges" x="159.0" y="2373.2" width="107.7" height="43.0" fill="#d3a996" stroke="rgb(192,192,188)" stroke-width="1"/>
<rect shape-rendering="crispEdges" x="159.0" y="2416.2" width="107.7" height="43.0" fill="#d3a996" stroke="rgb(192,192,188)" stroke-width="1"/>
<rect shape-rendering="crispEdges" x="159.0" y="2459.1" width="107.7" height="43.0" fill="#d3a996" stroke="rgb(192,192,188)" stroke-width="1"/>
<rect shape-rendering="crispEdges" x="159.0" y="2502.1" width="107.7" height="43.0" fill="#d3a996" stroke="rgb(192,192,188)" stroke-width="1"/>
<rect shape-rendering="crispEdges" x="159.0" y="2545.1" width="107.7" height="43.0" fill="#d3a996" stroke="rgb(192,192,188)" stroke-width="1"/>
<rect shape-rendering="crispEdges" x="159.0" y="2588.0" width="107.7" height="43.0" fill="#d3a996" stroke="rgb(192,192,188)" stroke-width="1"/>
<rect shape-rendering="crispEdges" x="159.0" y="2631.0" width="107.7" height="43.0" fill="#d3a996" stroke="rgb(192,192,188)" stroke-width="1"/>
<rect shape-rendering="crispEdges" x="159.0" y="2673.9" width="107.7" height="43.0" fill="#d3a996" stroke="rgb(192,192,188)" stroke-width="1"/>
<rect shape-rendering="crispEdges" x="159.0" y="2736.0" width="107.7" height="43.0" fill="#d3a996" stroke="rgb(192,192,188)" stroke-width="1"/>
<rect shape-rendering="crispEdges" x="159.0" y="2779.0" width="107.7" height="43.0" fill="#d3a996" stroke="rgb(192,192,188)" stroke-width="1"/>
<rect shape-rendering="crispEdges" x="294.2" y="2306.2" width="107.3" height="38.9" fill="#d3a996" stroke="rgb(192,192,188)" stroke-width="1"/>
<rect shape-rendering="crispEdges" x="294.2" y="2345.1" width="107.3" height="39.2" fill="#d3a996" stroke="rgb(192,192,188)" stroke-width="1"/>
<rect shape-rendering="crispEdges" x="294.2" y="2384.3" width="107.3" height="39.8" fill="#d3a996" stroke="rgb(192,192,188)" stroke-width="1"/>
<rect shape-rendering="crispEdges" x="294.2" y="2424.1" width="107.3" height="39.2" fill="#d3a996" stroke="rgb(192,192,188)" stroke-width="1"/>
<rect shape-rendering="crispEdges" x="294.2" y="2463.3" width="107.3" height="38.9" fill="#d3a996" stroke="rgb(192,192,188)" stroke-width="1"/>
<rect shape-rendering="crispEdges" x="294.2" y="2502.2" width="107.3" height="43.3" fill="#d3a996" stroke="rgb(192,192,188)" stroke-width="1"/>
<rect shape-rendering="crispEdges" x="294.2" y="2545.5" width="107.3" height="42.8" fill="#d3a996" stroke="rgb(192,192,188)" stroke-width="1"/>
<rect shape-rendering="crispEdges" x="294.2" y="2588.3" width="107.3" height="42.7" fill="#d3a996" stroke="rgb(192,192,188)" stroke-width="1"/>
<rect shape-rendering="crispEdges" x="294.2" y="2631.0" width="107.3" height="43.6" fill="#d3a996" stroke="rgb(192,192,188)" stroke-width="1"/>
<rect shape-rendering="crispEdges" x="401.8" y="2330.4" width="107.4" height="43.0" fill="#d3a996" stroke="rgb(192,192,188)" stroke-width="1"/>
<rect shape-rendering="crispEdges" x="401.8" y="2373.4" width="107.4" height="43.0" fill="#d3a996" stroke="rgb(192,192,188)" stroke-width="1"/>
<rect shape-rendering="crispEdges" x="401.8" y="2416.3" width="107.4" height="43.0" fill="#d3a996" stroke="rgb(192,192,188)" stroke-width="1"/>
<rect shape-rendering="crispEdges" x="401.8" y="2459.3" width="107.4" height="43.0" fill="#d3a996" stroke="rgb(192,192,188)" stroke-width="1"/>
<rect shape-rendering="crispEdges" x="401.8" y="2502.2" width="107.4" height="43.0" fill="#d3a996" stroke="rgb(192,192,188)" stroke-width="1"/>
<rect shape-rendering="crispEdges" x="401.8" y="2545.2" width="107.4" height="43.0" fill="#d3a996" stroke="rgb(192,192,188)" stroke-width="1"/>
<rect shape-rendering="crispEdges" x="401.8" y="2588.2" width="107.4" height="43.0" fill="#d3a996" stroke="rgb(192,192,188)" stroke-width="1"/>
<rect shape-rendering="crispEdges" x="401.8" y="2631.1" width="107.4" height="43.0" fill="#d3a996" stroke="rgb(192,192,188)" stroke-width="1"/>
<rect shape-rendering="crispEdges" x="401.8" y="2674.1" width="107.4" height="43.0" fill="#d3a996" stroke="rgb(192,192,188)" stroke-width="1"/>
<rect shape-rendering="crispEdges" x="401.8" y="2717.0" width="107.4" height="43.0" fill="#d3a996" stroke="rgb(192,192,188)" stroke-width="1"/>
<rect shape-rendering="crispEdges" x="401.8" y="2760.0" width="107.4" height="43.0" fill="#d3a996" stroke="rgb(192,192,188)" stroke-width="1"/>
<rect shape-rendering="crispEdges" x="401.8" y="2803.0" width="107.4" height="43.0" fill="#d3a996" stroke="rgb(192,192,188)" stroke-width="1"/>
<rect shape-rendering="crispEdges" x="401.8" y="2845.9" width="107.4" height="43.0" fill="#d3a996" stroke="rgb(192,192,188)" stroke-width="1"/>
<polygon points="499.0,2400.5 490.3,2395.5 490.3,2385.5 499.0,2380.5 507.7,2385.5 507.7,2395.5" fill="#a9a9ac"/>
<polygon points="499.0,2443.3 490.3,2438.3 490.3,2428.3 499.0,2423.3 507.7,2428.3 507.7,2438.3" fill="#a9a9ac"/>
</svg>
<div class="l" style="left:120.9px;top:63.0px;width:120px">3000</div>
<div class="s" style="left:205.9px;top:54.9px">*</div>
<div class="l" style="left:108.3px;top:106.0px;width:120px">3002</div>
<div class="s" style="left:195.9px;top:97.7px">*</div>
<div class="l" style="left:86.5px;top:150.1px;width:120px">3004</div>
<div class="l" style="left:81.8px;top:191.3px;width:120px">3006</div>
<div class="l" style="left:71.1px;top:233.2px;width:120px">3008</div>
<div class="l" style="left:65.8px;top:276.1px;width:120px">3010</div>
<div class="l" style="left:63.1px;top:318.5px;width:120px">3012</div>
<div class="l" style="left:58.0px;top:361.0px;width:120px">3014</div>
<div class="l" style="left:44.0px;top:404.6px;width:120px">3016</div>
<div class="l" style="left:44.0px;top:446.7px;width:120px">3018</div>
<div class="l" style="left:18.0px;top:491.0px;width:120px">3020</div>
<div class="l" style="left:18.0px;top:534.5px;width:120px">3022</div>
<div class="s" style="left:100.4px;top:526.7px">*</div>
<div class="l" style="left:18.0px;top:577.0px;width:120px">3024</div>
<div class="l" style="left:18.0px;top:620.0px;width:120px">3026</div>
<div class="l" style="left:18.0px;top:663.0px;width:120px">3028</div>
<div class="s" style="left:100.4px;top:654.2px">*</div>
<div class="l" style="left:18.0px;top:703.9px;width:120px">3030</div>
<div class="l" style="left:420.8px;top:60.3px;width:120px">3500</div>
<div class="s" style="left:506.0px;top:53.1px">*</div>
<div class="l" style="left:433.5px;top:103.2px;width:120px">3502</div>
<div class="s" style="left:516.2px;top:96.2px">*</div>
<div class="l" style="left:452.0px;top:146.7px;width:120px">3504</div>
<div class="l" style="left:460.5px;top:188.7px;width:120px">3506</div>
<div class="l" style="left:470.2px;top:232.8px;width:120px">3508</div>
<div class="l" style="left:473.7px;top:275.8px;width:120px">3510</div>
<div class="l" style="left:479.8px;top:318.7px;width:120px">3512</div>
<div class="l" style="left:482.5px;top:360.9px;width:120px">3514</div>
<div class="l" style="left:493.5px;top:406.7px;width:120px">3516</div>
<div class="l" style="left:496.3px;top:446.8px;width:120px">3518</div>
<div class="l" style="left:523.0px;top:491.0px;width:120px">3520</div>
<div class="l" style="left:523.0px;top:534.5px;width:120px">3522</div>
<div class="s" style="left:605.7px;top:523.2px">*</div>
<div class="l" style="left:523.0px;top:577.0px;width:120px">3524</div>
<div class="l" style="left:523.0px;top:620.0px;width:120px">3526</div>
<div class="l" style="left:523.0px;top:663.0px;width:120px">3528</div>
<div class="s" style="left:606.9px;top:654.2px">*</div>
<div class="l" style="left:523.0px;top:703.9px;width:120px">3530</div>
<div class="l" style="left:17.8px;top:763.2px;width:120px">3032</div>
<div class="l" style="left:523.5px;top:763.2px;width:120px">3532</div>
<div class="l" style="left:17.8px;top:820.1px;width:120px">3034</div>
<div class="l" style="left:17.4px;top:906.0px;width:120px">3038</div>
<div class="l" style="left:17.4px;top:948.9px;width:120px">3040</div>
<div class="l" style="left:17.4px;top:991.9px;width:120px">3042</div>
<div class="l" style="left:17.4px;top:1034.8px;width:120px">3044</div>
<div class="l" style="left:17.4px;top:1077.8px;width:120px">3046</div>
<div class="l" style="left:17.4px;top:1120.7px;width:120px">3048</div>
<div class="l" style="left:17.4px;top:1163.7px;width:120px">3050</div>
<div class="l" style="left:17.4px;top:1206.6px;width:120px">3052</div>
<div class="l" style="left:17.4px;top:1249.6px;width:120px">3054</div>
<div class="l" style="left:17.4px;top:1292.5px;width:120px">3056</div>
<div class="l" style="left:17.4px;top:1335.5px;width:120px">3058</div>
<div class="l" style="left:17.4px;top:1378.4px;width:120px">3060</div>
<div class="l" style="left:17.4px;top:1421.4px;width:120px">3062</div>
<div class="l" style="left:17.4px;top:1464.3px;width:120px">3064</div>
<div class="l" style="left:17.4px;top:1507.3px;width:120px">3066</div>
<div class="l" style="left:17.4px;top:1550.2px;width:120px">3068</div>
<div class="l" style="left:17.4px;top:1593.2px;width:120px">3070</div>
<div class="l" style="left:17.4px;top:1636.1px;width:120px">3072</div>
<div class="l" style="left:17.4px;top:1679.1px;width:120px">3074</div>
<div class="l" style="left:17.4px;top:1722.0px;width:120px">3076</div>
<div class="l" style="left:17.4px;top:1765.0px;width:120px">3078</div>
<div class="l" style="left:17.4px;top:1807.9px;width:120px">3080</div>
<div class="l" style="left:17.4px;top:1850.9px;width:120px">3082</div>
<div class="l" style="left:17.4px;top:1893.8px;width:120px">3084</div>
<div class="l" style="left:17.4px;top:1936.8px;width:120px">3086</div>
<div class="l" style="left:17.4px;top:1979.7px;width:120px">3088</div>
<div class="l" style="left:17.4px;top:2022.7px;width:120px">3090</div>
<div class="l" style="left:17.4px;top:2065.6px;width:120px">3092</div>
<div class="l" style="left:17.4px;top:2108.6px;width:120px">3094</div>
<div class="l" style="left:17.4px;top:2151.5px;width:120px">3096</div>
<div class="l" style="left:17.4px;top:2194.5px;width:120px">3098</div>
<div class="l" style="left:17.4px;top:2237.4px;width:120px">3100</div>
<div class="l" style="left:18.0px;top:2303.5px;width:120px">3102</div>
<div class="l" style="left:524.0px;top:820.1px;width:120px">3534</div>
<div class="l" style="left:524.0px;top:862.5px;width:120px">3536</div>
<div class="l" style="left:523.5px;top:906.0px;width:120px">3538</div>
<div class="l" style="left:523.5px;top:948.9px;width:120px">3540</div>
<div class="l" style="left:523.5px;top:991.9px;width:120px">3542</div>
<div class="l" style="left:523.5px;top:1034.8px;width:120px">3544</div>
<div class="l" style="left:523.5px;top:1077.8px;width:120px">3546</div>
<div class="l" style="left:523.5px;top:1120.7px;width:120px">3548</div>
<div class="l" style="left:523.5px;top:1163.7px;width:120px">3550</div>
<div class="l" style="left:523.5px;top:1206.6px;width:120px">3552</div>
<div class="l" style="left:523.5px;top:1249.6px;width:120px">3554</div>
<div class="l" style="left:523.5px;top:1292.5px;width:120px">3556</div>
<div class="l" style="left:523.5px;top:1335.5px;width:120px">3558</div>
<div class="l" style="left:523.5px;top:1378.4px;width:120px">3560</div>
<div class="l" style="left:523.5px;top:1421.4px;width:120px">3562</div>
<div class="l" style="left:523.5px;top:1464.3px;width:120px">3564</div>
<div class="l" style="left:523.5px;top:1507.3px;width:120px">3566</div>
<div class="l" style="left:523.5px;top:1550.2px;width:120px">3568</div>
<div class="l" style="left:523.5px;top:1593.2px;width:120px">3570</div>
<div class="l" style="left:523.5px;top:1636.1px;width:120px">3572</div>
<div class="l" style="left:523.5px;top:1679.1px;width:120px">3574</div>
<div class="l" style="left:523.5px;top:1722.0px;width:120px">3576</div>
<div class="l" style="left:523.5px;top:1765.0px;width:120px">3578</div>
<div class="l" style="left:523.5px;top:1807.9px;width:120px">3580</div>
<div class="l" style="left:523.5px;top:1850.9px;width:120px">3582</div>
<div class="l" style="left:523.5px;top:1893.8px;width:120px">3584</div>
<div class="l" style="left:523.5px;top:1936.8px;width:120px">3586</div>
<div class="l" style="left:523.5px;top:1979.7px;width:120px">3588</div>
<div class="l" style="left:523.5px;top:2022.7px;width:120px">3590</div>
<div class="l" style="left:523.5px;top:2065.6px;width:120px">3592</div>
<div class="l" style="left:523.5px;top:2108.6px;width:120px">3594</div>
<div class="l" style="left:523.5px;top:2151.5px;width:120px">3596</div>
<div class="l" style="left:523.5px;top:2194.5px;width:120px">3598</div>
<div class="l" style="left:523.5px;top:2237.4px;width:120px">3600</div>
<div class="l" style="left:523.5px;top:2305.5px;width:120px">3602</div>
<div class="l" style="left:17.4px;top:2345.8px;width:120px">3104</div>
<div class="l" style="left:523.5px;top:2345.8px;width:120px">3604</div>
<div class="l" style="left:17.4px;top:2388.7px;width:120px">3106</div>
<div class="l" style="left:523.5px;top:2388.7px;width:120px">3606</div>
<div class="l" style="left:17.4px;top:2431.7px;width:120px">3108</div>
<div class="l" style="left:523.5px;top:2431.7px;width:120px">3608</div>
<div class="l" style="left:17.4px;top:2474.6px;width:120px">3110</div>
<div class="l" style="left:523.5px;top:2474.6px;width:120px">3610</div>
<div class="l" style="left:17.4px;top:2517.6px;width:120px">3112</div>
<div class="l" style="left:523.5px;top:2517.6px;width:120px">3612</div>
<div class="l" style="left:17.4px;top:2560.5px;width:120px">3114</div>
<div class="l" style="left:523.5px;top:2560.5px;width:120px">3614</div>
<div class="l" style="left:17.4px;top:2603.5px;width:120px">3116</div>
<div class="l" style="left:523.5px;top:2603.5px;width:120px">3616</div>
<div class="l" style="left:17.4px;top:2646.4px;width:120px">3118</div>
<div class="l" style="left:523.5px;top:2646.4px;width:120px">3618</div>
<div class="l" style="left:17.4px;top:2689.4px;width:120px">3120</div>
<div class="l" style="left:523.5px;top:2689.4px;width:120px">3620</div>
<div class="l" style="left:17.4px;top:2732.3px;width:120px">3122</div>
<div class="l" style="left:523.5px;top:2732.3px;width:120px">3622</div>
<div class="l" style="left:17.4px;top:2775.3px;width:120px">3124</div>
<div class="l" style="left:523.5px;top:2775.3px;width:120px">3624</div>
<div class="l" style="left:17.4px;top:2818.2px;width:120px">3126</div>
<div class="l" style="left:523.5px;top:2818.2px;width:120px">3626</div>
<div class="l" style="left:17.4px;top:2861.2px;width:120px">3128</div>
<div class="l" style="left:523.5px;top:2861.2px;width:120px">3628</div>
<div class="l" style="left:17.4px;top:2904.1px;width:120px">3130</div>
<div class="l" style="left:523.5px;top:2904.1px;width:120px">3630</div>
<div class="l" style="left:17.4px;top:2947.1px;width:120px">3132</div>
<div class="l" style="left:523.5px;top:2947.1px;width:120px">3632</div>
<div class="l" style="left:17.4px;top:2990.0px;width:120px">3134</div>
<div class="l" style="left:523.5px;top:2990.0px;width:120px">3634</div>
<div class="l" style="left:17.4px;top:3033.0px;width:120px">3136</div>
<div class="l" style="left:523.5px;top:3033.0px;width:120px">3636</div>
<div class="l" style="left:17.4px;top:3075.9px;width:120px">3138</div>
<div class="l" style="left:523.5px;top:3075.9px;width:120px">3638</div>
<div class="l" style="left:17.4px;top:3118.9px;width:120px">3140</div>
<div class="l" style="left:523.5px;top:3118.9px;width:120px">3640</div>
<div class="l" style="left:17.4px;top:3161.8px;width:120px">3142</div>
<div class="l" style="left:523.5px;top:3161.8px;width:120px">3642</div>
<div class="l" style="left:17.4px;top:3204.8px;width:120px">3144</div>
<div class="l" style="left:523.5px;top:3204.8px;width:120px">3644</div>
<div class="l" style="left:17.4px;top:3247.7px;width:120px">3146</div>
<div class="l" style="left:523.5px;top:3247.7px;width:120px">3646</div>
<div class="l" style="left:17.4px;top:3290.7px;width:120px">3148</div>
<div class="l" style="left:523.5px;top:3290.7px;width:120px">3648</div>
<div class="l" style="left:17.4px;top:3333.6px;width:120px">3150</div>
<div class="l" style="left:523.5px;top:3333.6px;width:120px">3650</div>
<div class="l" style="left:17.4px;top:3376.6px;width:120px">3152</div>
<div class="l" style="left:523.5px;top:3376.6px;width:120px">3652</div>
<div class="l" style="left:17.4px;top:3419.5px;width:120px">3154</div>
<div class="l" style="left:523.5px;top:3419.5px;width:120px">3654</div>
<div class="l" style="left:17.4px;top:3462.5px;width:120px">3156</div>
<div class="l" style="left:523.5px;top:3462.5px;width:120px">3656</div>
<div class="l" style="left:17.8px;top:3506.0px;width:120px">3157</div>
<div class="l" style="left:524.0px;top:3506.0px;width:120px">3657</div>
<div class="s" style="left:100.4px;top:1066.7px">*</div>
<div class="s" style="left:100.4px;top:1539.7px">*</div>
<div class="s" style="left:100.4px;top:1713.7px">*</div>
<div class="s" style="left:100.4px;top:1756.7px">*</div>
<div class="s" style="left:100.4px;top:2336.7px">*</div>
<div class="s" style="left:100.4px;top:2466.2px">*</div>
<div class="s" style="left:100.4px;top:2510.7px">*</div>
<div class="s" style="left:609.7px;top:1066.7px">*</div>
<div class="s" style="left:609.7px;top:1543.7px">*</div>
<div class="s" style="left:609.7px;top:1715.7px">*</div>
<div class="s" style="left:609.7px;top:1758.7px">*</div>
<div class="s" style="left:609.7px;top:2335.7px">*</div>
<div class="s" style="left:609.7px;top:2378.7px">*</div>
<div class="s" style="left:609.7px;top:2466.7px">*</div>
<div class="s" style="left:609.7px;top:2510.7px">*</div>
<div class="l" style="left:295.2px;top:120.5px;width:120px;transform:rotate(-90deg)">3501</div>
<div class="l" style="left:239.0px;top:189.2px;width:120px">3005</div>
<div class="s" style="left:322.4px;top:181.7px">*</div>
<div class="l" style="left:239.0px;top:230.8px;width:120px">3007</div>
<div class="s" style="left:322.4px;top:224.1px">*</div>
<div class="l" style="left:333.3px;top:212.0px;width:120px;transform:rotate(-90deg)">3505</div>
<div class="l" style="left:213.0px;top:273.5px;width:120px">3009</div>
<div class="s" style="left:294.8px;top:268.5px">*</div>
<div class="l" style="left:321.4px;top:273.5px;width:120px">3509</div>
<div class="s" style="left:404.3px;top:268.5px">*</div>
<div class="l" style="left:213.0px;top:316.5px;width:120px">3011</div>
<div class="s" style="left:294.8px;top:310.7px">*</div>
<div class="l" style="left:321.4px;top:316.5px;width:120px">3511</div>
<div class="s" style="left:404.3px;top:310.7px">*</div>
<div class="l" style="left:213.0px;top:360.2px;width:120px">3013</div>
<div class="s" style="left:294.8px;top:353.7px">*</div>
<div class="l" style="left:321.4px;top:360.2px;width:120px">3513</div>
<div class="s" style="left:404.3px;top:353.7px">*</div>
<div class="l" style="left:213.0px;top:403.2px;width:120px">3015</div>
<div class="s" style="left:294.8px;top:396.0px">*</div>
<div class="l" style="left:321.4px;top:403.2px;width:120px">3515</div>
<div class="s" style="left:404.3px;top:396.0px">*</div>
<div class="l" style="left:195.9px;top:447.0px;width:120px">3017</div>
<div class="l" style="left:195.9px;top:489.5px;width:120px">3019</div>
<div class="l" style="left:276.2px;top:473.5px;width:120px;transform:rotate(-90deg)">3313</div>
<div class="s" style="left:311.4px;top:433.7px">*</div>
<div class="l" style="left:344.5px;top:447.0px;width:120px">3517</div>
<div class="l" style="left:344.5px;top:489.5px;width:120px">3519</div>
<div class="l" style="left:204.3px;top:533.7px;width:120px">3315</div>
<div class="l" style="left:204.3px;top:574.9px;width:120px">3317</div>
<div class="l" style="left:204.3px;top:617.9px;width:120px">3319</div>
<div class="l" style="left:204.3px;top:660.9px;width:120px">3321</div>
<div class="l" style="left:204.3px;top:703.4px;width:120px">3323</div>
<div class="l" style="left:132.0px;top:686.4px;width:120px;transform:rotate(-90deg)">3027</div>
<div class="s" style="left:163.4px;top:647.7px">*</div>
<div class="l" style="left:338.0px;top:575.8px;width:120px">3325</div>
<div class="l" style="left:338.0px;top:617.9px;width:120px">3327</div>
<div class="l" style="left:338.0px;top:660.9px;width:120px">3329</div>
<div class="l" style="left:338.0px;top:703.4px;width:120px">3331</div>
<div class="l" style="left:420.3px;top:687.8px;width:120px;transform:rotate(-90deg)">3527</div>
<div class="s" style="left:451.9px;top:648.7px">*</div>
<div class="ev" style="left:281.8px;top:811px;width:100px">ELEV.</div>
<div class="l" style="left:386.5px;top:818.2px;width:120px">3535</div>
<div class="l" style="left:395.1px;top:906.7px;width:120px">3539</div>
<div class="l" style="left:395.1px;top:949.6px;width:120px">3541</div>
<div class="l" style="left:395.1px;top:992.6px;width:120px">3543</div>
<div class="l" style="left:395.1px;top:1035.5px;width:120px">3545</div>
<div class="l" style="left:395.1px;top:1078.5px;width:120px">3547</div>
<div class="l" style="left:395.1px;top:1121.4px;width:120px">3549</div>
<div class="l" style="left:395.1px;top:1164.4px;width:120px">3551</div>
<div class="l" style="left:395.1px;top:1207.3px;width:120px">3553</div>
<div class="l" style="left:395.1px;top:1250.3px;width:120px">3555</div>
<div class="l" style="left:395.1px;top:1293.2px;width:120px">3557</div>
<div class="l" style="left:395.1px;top:1336.2px;width:120px">3559</div>
<div class="l" style="left:395.1px;top:1379.1px;width:120px">3561</div>
<div class="l" style="left:395.1px;top:1422.1px;width:120px">3563</div>
<div class="l" style="left:395.1px;top:1465.0px;width:120px">3565</div>
<div class="l" style="left:395.1px;top:1508.0px;width:120px">3567</div>
<div class="l" style="left:395.1px;top:1550.9px;width:120px">3569</div>
<div class="l" style="left:395.1px;top:1593.9px;width:120px">3571</div>
<div class="l" style="left:395.1px;top:1636.8px;width:120px">3573</div>
<div class="l" style="left:395.1px;top:1679.8px;width:120px">3575</div>
<div class="l" style="left:395.1px;top:1722.7px;width:120px">3577</div>
<div class="l" style="left:395.1px;top:1765.7px;width:120px">3579</div>
<div class="l" style="left:395.1px;top:1808.6px;width:120px">3581</div>
<div class="l" style="left:395.1px;top:1851.6px;width:120px">3583</div>
<div class="l" style="left:395.1px;top:1894.5px;width:120px">3585</div>
<div class="l" style="left:395.1px;top:1937.5px;width:120px">3587</div>
<div class="l" style="left:149.0px;top:992.0px;width:120px">3043</div>
<div class="l" style="left:286.3px;top:1034.3px;width:120px">3445</div>
<div class="l" style="left:288.4px;top:1077.3px;width:120px">3447</div>
<div class="l" style="left:288.4px;top:1120.2px;width:120px">3449</div>
<div class="l" style="left:289.4px;top:1163.2px;width:120px">3451</div>
<div class="l" style="left:289.4px;top:1206.1px;width:120px">3453</div>
<div class="l" style="left:288.6px;top:1249.1px;width:120px">3455</div>
<div class="l" style="left:289.9px;top:1292.0px;width:120px">3457</div>
<div class="l" style="left:289.9px;top:1335.0px;width:120px">3459</div>
<div class="l" style="left:289.4px;top:1377.9px;width:120px">3461</div>
<div class="l" style="left:289.4px;top:1420.9px;width:120px">3463</div>
<div class="l" style="left:289.6px;top:1463.8px;width:120px">3465</div>
<div class="l" style="left:155.1px;top:1056.0px;width:120px">3047</div>
<div class="l" style="left:155.1px;top:1098.9px;width:120px">3049</div>
<div class="l" style="left:155.1px;top:1141.9px;width:120px">3051</div>
<div class="l" style="left:155.1px;top:1184.9px;width:120px">3053</div>
<div class="l" style="left:155.1px;top:1227.8px;width:120px">3055</div>
<div class="l" style="left:155.1px;top:1270.8px;width:120px">3057</div>
<div class="l" style="left:155.1px;top:1313.7px;width:120px">3059</div>
<div class="l" style="left:155.1px;top:1356.7px;width:120px">3061</div>
<div class="l" style="left:155.1px;top:1399.7px;width:120px">3063</div>
<div class="l" style="left:155.1px;top:1442.6px;width:120px">3065</div>
<div class="l" style="left:154.1px;top:1507.6px;width:120px">3067</div>
<div class="l" style="left:154.1px;top:1550.5px;width:120px">3069</div>
<div class="l" style="left:154.1px;top:1593.5px;width:120px">3071</div>
<div class="l" style="left:154.1px;top:1636.5px;width:120px">3073</div>
<div class="l" style="left:154.1px;top:1679.4px;width:120px">3075</div>
<div class="l" style="left:154.1px;top:1722.4px;width:120px">3077</div>
<div class="l" style="left:154.1px;top:1765.3px;width:120px">3079</div>
<div class="l" style="left:154.1px;top:1808.3px;width:120px">3081</div>
<div class="l" style="left:154.1px;top:1851.3px;width:120px">3083</div>
<div class="l" style="left:154.1px;top:1894.2px;width:120px">3085</div>
<div class="l" style="left:154.1px;top:1937.2px;width:120px">3087</div>
<div class="s" style="left:232.9px;top:1048.5px">*</div>
<div class="s" style="left:232.9px;top:1220.2px">*</div>
<div class="s" style="left:232.9px;top:1264.7px">*</div>
<div class="s" style="left:233.4px;top:1627.7px">*</div>
<div class="s" style="left:233.4px;top:1887.2px">*</div>
<div class="s" style="left:369.4px;top:1072.7px">*</div>
<div class="s" style="left:369.4px;top:1116.2px">*</div>
<div class="s" style="left:476.4px;top:1072.7px">*</div>
<div class="evb" style="left:195.7px;top:2051.8px;width:101px;height:44.5px;transform-origin:0 0;transform:matrix(0.9950,0.1376,-0.2270,0.9708,0,0)"><span>ELEV.</span></div>
<div class="evb" style="left:367.1px;top:2064.7px;width:101px;height:44.5px;transform-origin:0 0;transform:matrix(1.0000,-0.1327,0.2270,1.0045,0,0)"><span>ELEV.</span></div>
<div class="l" style="left:155.5px;top:2303.1px;width:120px">3101</div>
<div class="l" style="left:150.4px;top:2347.5px;width:120px">3103</div>
<div class="l" style="left:150.4px;top:2393.5px;width:120px">3105</div>
<div class="l" style="left:150.4px;top:2433.2px;width:120px">3107</div>
<div class="l" style="left:150.4px;top:2475.5px;width:120px">3109</div>
<div class="l" style="left:150.0px;top:2520.0px;width:120px">3111</div>
<div class="l" style="left:149.3px;top:2561.0px;width:120px">3113</div>
<div class="l" style="left:148.5px;top:2606.5px;width:120px">3115</div>
<div class="l" style="left:149.9px;top:2649.5px;width:120px">3117</div>
<div class="l" style="left:148.9px;top:2690.8px;width:120px">3119</div>
<div class="s" style="left:232.9px;top:2341.7px">*</div>
<div class="s" style="left:232.9px;top:2386.7px">*</div>
<div class="s" style="left:232.9px;top:2426.1px">*</div>
<div class="s" style="left:232.9px;top:2468.7px">*</div>
<div class="l" style="left:151.6px;top:2752.3px;width:120px">3121</div>
<div class="l" style="left:146.9px;top:2795.7px;width:120px">3123</div>
<div class="l" style="left:283.4px;top:2320.0px;width:120px">3801</div>
<div class="l" style="left:283.4px;top:2357.1px;width:120px">3803</div>
<div class="l" style="left:284.9px;top:2397.7px;width:120px">3805</div>
<div class="l" style="left:283.7px;top:2437.9px;width:120px">3807</div>
<div class="l" style="left:283.7px;top:2479.0px;width:120px">3809</div>
<div class="l" style="left:284.2px;top:2518.8px;width:120px">3811</div>
<div class="l" style="left:283.4px;top:2563.5px;width:120px">3813</div>
<div class="l" style="left:283.4px;top:2606.2px;width:120px">3815</div>
<div class="l" style="left:284.9px;top:2649.4px;width:120px">3817</div>
<div class="l" style="left:395.3px;top:2347.5px;width:120px">3603</div>
<div class="l" style="left:395.3px;top:2390.5px;width:120px">3605</div>
<div class="l" style="left:395.3px;top:2431.9px;width:120px">3607</div>
<div class="l" style="left:395.3px;top:2474.5px;width:120px">3609</div>
<div class="l" style="left:393.3px;top:2519.4px;width:120px">3611</div>
<div class="l" style="left:393.3px;top:2562.4px;width:120px">3613</div>
<div class="l" style="left:393.3px;top:2605.3px;width:120px">3615</div>
<div class="l" style="left:393.3px;top:2648.3px;width:120px">3617</div>
<div class="l" style="left:393.3px;top:2691.3px;width:120px">3619</div>
<div class="l" style="left:393.3px;top:2734.2px;width:120px">3621</div>
<div class="l" style="left:393.3px;top:2777.2px;width:120px">3623</div>
<div class="l" style="left:393.3px;top:2820.1px;width:120px">3625</div>
<div class="l" style="left:393.3px;top:2863.1px;width:120px">3627</div>
<div class="s" style="left:478.7px;top:2341.7px">*</div>
<div class="s" style="left:478.7px;top:2467.7px">*</div>
</div></body></html>
